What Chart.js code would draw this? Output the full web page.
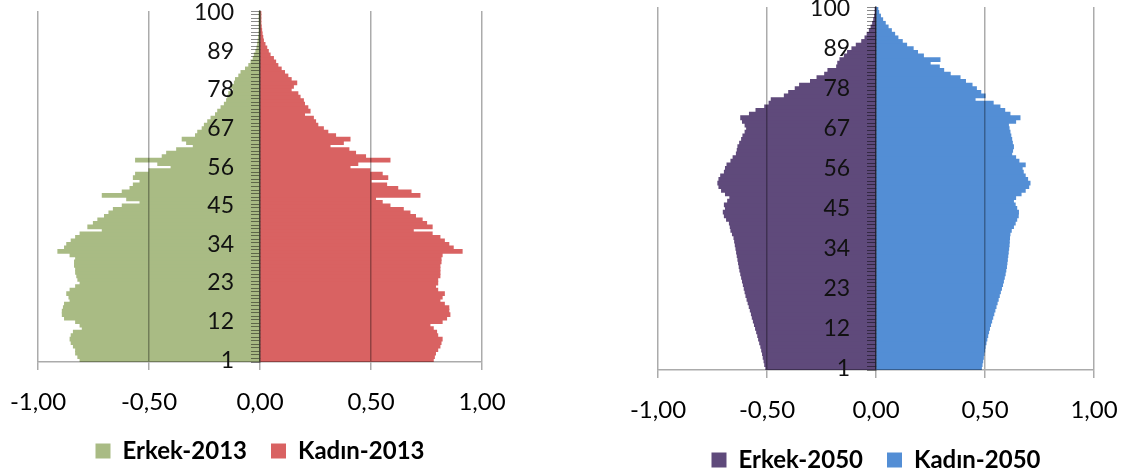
<!DOCTYPE html>
<html>
<head>
<meta charset="utf-8">
<script src="https://cdn.jsdelivr.net/npm/chart.js@4.4.1/dist/chart.umd.min.js"></script>
<style>
  html, body { margin: 0; padding: 0; background: #fff; overflow: hidden; }
  .box { position: absolute; top: 0; height: 490px; }
  #left { left: 0; width: 520px; }
  #right { left: 600px; width: 531px; }
</style>
</head>
<body>
<div class="box" id="left"><canvas id="pyr2013"></canvas></div>
<div class="box" id="right"><canvas id="pyr2050"></canvas></div>
<script>
// age groups 1..100 (bottom to top)
var ages = [];
for (var a = 1; a <= 100; a++) ages.push(String(a));
var ageTickLabels = ['1', '12', '23', '34', '45', '56', '67', '78', '89', '100'];

// share of total population (%), age 1 .. 100
var erkek2013 = [
  -0.81, -0.82, -0.83, -0.83, -0.84, -0.85, -0.855, -0.85, -0.84, -0.80,
  -0.81, -0.83, -0.88, -0.89, -0.89, -0.885, -0.88, -0.855, -0.86, -0.87,
  -0.855, -0.83, -0.81, -0.82, -0.825, -0.83, -0.83, -0.835, -0.835, -0.83,
  -0.855, -0.91, -0.88, -0.87, -0.85, -0.83, -0.81, -0.71, -0.775, -0.75,
  -0.73, -0.70, -0.68, -0.66, -0.62, -0.54, -0.60, -0.71, -0.62, -0.585,
  -0.57, -0.54, -0.57, -0.56, -0.50, -0.40, -0.46, -0.56, -0.44, -0.42,
  -0.375, -0.30, -0.33, -0.35, -0.29, -0.28, -0.26, -0.25, -0.235, -0.22,
  -0.20, -0.19, -0.175, -0.16, -0.15, -0.145, -0.14, -0.12, -0.13, -0.115,
  -0.11, -0.095, -0.085, -0.065, -0.05, -0.04, -0.03, -0.025, -0.018, -0.013,
  -0.01, -0.008, -0.006, -0.004, -0.003, -0.002, -0.001, -0.001, -0.001, -0.001
];
var kadin2013 = [
  0.78, 0.785, 0.79, 0.80, 0.81, 0.815, 0.82, 0.80, 0.795, 0.78,
  0.765, 0.82, 0.84, 0.855, 0.85, 0.85, 0.83, 0.81, 0.82, 0.83,
  0.80, 0.79, 0.80, 0.80, 0.81, 0.81, 0.81, 0.81, 0.815, 0.815,
  0.82, 0.91, 0.87, 0.85, 0.83, 0.81, 0.775, 0.69, 0.775, 0.75,
  0.73, 0.70, 0.675, 0.645, 0.585, 0.55, 0.52, 0.72, 0.68, 0.62,
  0.57, 0.50, 0.575, 0.55, 0.495, 0.405, 0.44, 0.585, 0.475, 0.43,
  0.40, 0.315, 0.375, 0.405, 0.34, 0.305, 0.285, 0.26, 0.25, 0.24,
  0.20, 0.225, 0.215, 0.20, 0.195, 0.18, 0.17, 0.14, 0.15, 0.165,
  0.14, 0.125, 0.11, 0.095, 0.08, 0.07, 0.06, 0.045, 0.037, 0.03,
  0.022, 0.015, 0.012, 0.009, 0.007, 0.005, 0.003, 0.002, 0.001, 0.001
];
var erkek2050 = [
  -0.505, -0.51, -0.513, -0.517, -0.52, -0.524, -0.528, -0.533, -0.538, -0.542,
  -0.547, -0.552, -0.557, -0.562, -0.567, -0.571, -0.576, -0.581, -0.586, -0.591,
  -0.596, -0.60, -0.604, -0.608, -0.612, -0.616, -0.62, -0.624, -0.627, -0.63,
  -0.633, -0.636, -0.639, -0.642, -0.645, -0.648, -0.651, -0.658, -0.665, -0.668,
  -0.672, -0.685, -0.695, -0.70, -0.69, -0.695, -0.68, -0.67, -0.69, -0.708,
  -0.72, -0.725, -0.72, -0.712, -0.695, -0.69, -0.683, -0.665, -0.655, -0.64,
  -0.636, -0.633, -0.625, -0.616, -0.61, -0.60, -0.593, -0.60, -0.612, -0.62,
  -0.58, -0.55, -0.51, -0.49, -0.48, -0.42, -0.40, -0.37, -0.35, -0.30,
  -0.27, -0.235, -0.22, -0.18, -0.175, -0.165, -0.145, -0.13, -0.11, -0.09,
  -0.065, -0.05, -0.04, -0.03, -0.022, -0.015, -0.01, -0.006, -0.003, -0.002
];
var kadin2050 = [
  0.483, 0.486, 0.489, 0.492, 0.495, 0.498, 0.50, 0.504, 0.508, 0.512,
  0.516, 0.52, 0.525, 0.53, 0.535, 0.54, 0.545, 0.55, 0.555, 0.56,
  0.565, 0.57, 0.575, 0.58, 0.584, 0.588, 0.592, 0.595, 0.598, 0.60,
  0.602, 0.604, 0.606, 0.608, 0.61, 0.611, 0.612, 0.614, 0.62, 0.63,
  0.638, 0.645, 0.652, 0.653, 0.645, 0.638, 0.63, 0.64, 0.665, 0.684,
  0.70, 0.706, 0.695, 0.684, 0.675, 0.67, 0.684, 0.655, 0.64, 0.622,
  0.626, 0.63, 0.625, 0.622, 0.618, 0.614, 0.61, 0.607, 0.64, 0.66,
  0.614, 0.59, 0.568, 0.537, 0.454, 0.50, 0.48, 0.46, 0.44, 0.41,
  0.385, 0.34, 0.31, 0.29, 0.248, 0.293, 0.217, 0.19, 0.17, 0.14,
  0.12, 0.10, 0.085, 0.07, 0.055, 0.042, 0.03, 0.02, 0.012, 0.008
];

Chart.defaults.font.family = 'Lato, Carlito, "Open Sans", sans-serif';
Chart.defaults.color = '#000';

var gridGray = 'rgba(0,0,0,0.33)';
var tickGray = 'rgba(0,0,0,0.45)';

function fmt(v) {
  if (Math.abs(v) < 1e-9) v = 0;
  return v.toFixed(2).replace('.', ',');
}

function noPad(s) {
  s.paddingTop = 0; s.paddingBottom = 0;
  s.paddingLeft = 0; s.paddingRight = 0;
}

function pyramid(id, names, male, female, colors, pad, axisH, labelAt) {
  return new Chart(document.getElementById(id), {
    type: 'bar',
    data: {
      labels: ages,
      datasets: [
        { label: names[0], data: male, backgroundColor: colors[0],
          barPercentage: 1, categoryPercentage: 1, inflateAmount: 0.6 },
        { label: names[1], data: female, backgroundColor: colors[1],
          barPercentage: 1, categoryPercentage: 1, inflateAmount: 0.6 }
      ]
    },
    options: {
      indexAxis: 'y',
      responsive: true,
      maintainAspectRatio: false,
      animation: false,
      layout: { padding: pad },
      scales: {
        x: {
          stacked: true, min: -1, max: 1,
          grid: { color: gridGray, lineWidth: 1.5, tickLength: 8, z: 1 },
          border: { color: gridGray, width: 1.5, z: 1 },
          ticks: { stepSize: 0.5, padding: 18, maxRotation: 0, font: { size: 24 }, callback: fmt },
          afterFit: function (s) { noPad(s); s.height = axisH; }
        },
        y: {
          stacked: true, reverse: true, position: { x: 0 },
          grid: { drawOnChartArea: false, tickLength: 8, color: tickGray, z: 1 },
          border: { color: tickGray, width: 1.5, z: 1 },
          ticks: { display: false },
          afterFit: noPad
        },
        // age labels, drawn a little left of the zero line
        yl: {
          type: 'category', axis: 'y', reverse: true, position: { x: labelAt },
          grid: { display: false },
          border: { display: false },
          ticks: {
            autoSkip: false, padding: 0, color: '#111', font: { size: 23 }, z: 2,
            callback: function (v) {
              var l = this.getLabelForValue(v);
              return ageTickLabels.indexOf(l) >= 0 ? l : '';
            }
          },
          afterFit: noPad
        }
      },
      plugins: {
        legend: {
          position: 'bottom',
          labels: { boxWidth: 15, boxHeight: 15, padding: 24, font: { size: 24, weight: 'bold' } }
        },
        tooltip: { enabled: false }
      }
    }
  });
}

pyramid('pyr2013', ['Erkek-2013', 'Kadın-2013'], erkek2013, kadin2013,
  ['#a9bb84', '#d96262'], { left: 38, right: 38, top: 11, bottom: 17 }, 53, -0.117);
pyramid('pyr2050', ['Erkek-2050', 'Kadın-2050'], erkek2050, kadin2050,
  ['#5f4a7b', '#538ed5'], { left: 58, right: 37, top: 7, bottom: 8 }, 54, -0.119);
</script>
</body>
</html>
